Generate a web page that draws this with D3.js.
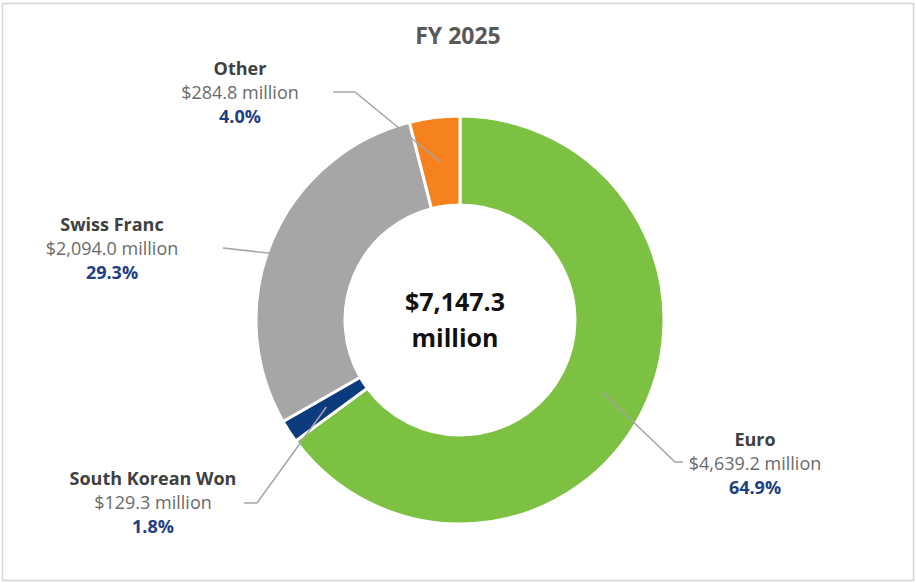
<!DOCTYPE html>
<html><head><meta charset="utf-8">
<script src="https://cdn.jsdelivr.net/npm/d3@7/dist/d3.min.js"></script>
<style>
html,body{margin:0;padding:0;background:#fff;}
svg{display:block;font-family:"Open Sans",sans-serif;}
</style></head>
<body>
<svg id="chart" width="916" height="583"></svg>
<script>
const title = "FY 2025";
const categories = ["Euro", "South Korean Won", "Swiss Franc", "Other"];
const valuesMillions = [4639.2, 129.3, 2094.0, 284.8];
const valueLabels = ["$4,639.2 million", "$129.3 million", "$2,094.0 million", "$284.8 million"];
const percentLabels = ["64.9%", "1.8%", "29.3%", "4.0%"];
const totalLabel = ["$7,147.3", "million"];
const colors = ["#7DC142", "#0B3B7C", "#A6A6A6", "#F5821F"];
// label anchor (center of text block, first row y) and leader start
const labelPos = [
  {x: 755, y: 440, lx: 683, ly: 462, bx: 675},
  {x: 153, y: 479, lx: 244, ly: 503, bx: 257},
  {x: 112, y: 225, lx: 223, ly: 248, bx: null},
  {x: 240, y: 69,  lx: 333, ly: 92,  bx: 355}
];

const svg = d3.select("#chart");
svg.append("rect").attr("x", 2.5).attr("y", 3.5).attr("width", 911).attr("height", 577)
  .attr("fill", "#fff").attr("stroke", "#D6D6D6").attr("stroke-width", 1.5);

const cx = 460, cy = 320, rOuter = 204, rInner = 115;
const g = svg.append("g").attr("transform", `translate(${cx},${cy})`);

const pie = d3.pie().sort(null).value(d => d);
const arcs = pie(valuesMillions);
const arc = d3.arc().innerRadius(rInner).outerRadius(rOuter);
const midArc = d3.arc().innerRadius((rInner + rOuter) / 2).outerRadius((rInner + rOuter) / 2);

g.selectAll("path.slice").data(arcs).join("path")
  .attr("class", "slice")
  .attr("d", arc)
  .attr("fill", (d, i) => colors[i])
  .attr("stroke", "#fff").attr("stroke-width", 3);

// leader lines
arcs.forEach((d, i) => {
  const c = midArc.centroid(d);
  const p = labelPos[i];
  const pts = [[p.lx, p.ly]];
  if (p.bx !== null) pts.push([p.bx, p.ly]);
  pts.push([cx + c[0], cy + c[1]]);
  svg.append("path")
    .attr("d", d3.line()(pts))
    .attr("fill", "none").attr("stroke", "#A5A5A5").attr("stroke-width", 1.5);
});

// labels
const fs = 18, gap = 24;
arcs.forEach((d, i) => {
  const p = labelPos[i];
  const t = svg.append("g").attr("text-anchor", "middle");
  t.append("text").attr("x", p.x).attr("y", p.y).attr("dy", "0.35em")
    .attr("font-size", fs).attr("font-weight", 700).attr("fill", "#404040").text(categories[i]);
  t.append("text").attr("x", p.x).attr("y", p.y + gap).attr("dy", "0.35em")
    .attr("font-size", fs).attr("fill", "#6B6B6B").text(valueLabels[i]);
  t.append("text").attr("x", p.x).attr("y", p.y + 2 * gap).attr("dy", "0.35em")
    .attr("font-size", fs).attr("font-weight", 700).attr("fill", "#1F3F80").text(percentLabels[i]);
});

svg.append("text").attr("x", 458).attr("y", 36).attr("dy", "0.35em")
  .attr("text-anchor", "middle").attr("font-size", 23).attr("font-weight", 700)
  .attr("fill", "#595959").text(title);

svg.append("text").attr("x", 455).attr("y", 302).attr("dy", "0.35em")
  .attr("text-anchor", "middle").attr("font-size", 25).attr("font-weight", 700)
  .attr("fill", "#111").text(totalLabel[0]);
svg.append("text").attr("x", 455).attr("y", 338).attr("dy", "0.35em")
  .attr("text-anchor", "middle").attr("font-size", 25).attr("font-weight", 700)
  .attr("fill", "#111").text(totalLabel[1]);
</script>
</body></html>
